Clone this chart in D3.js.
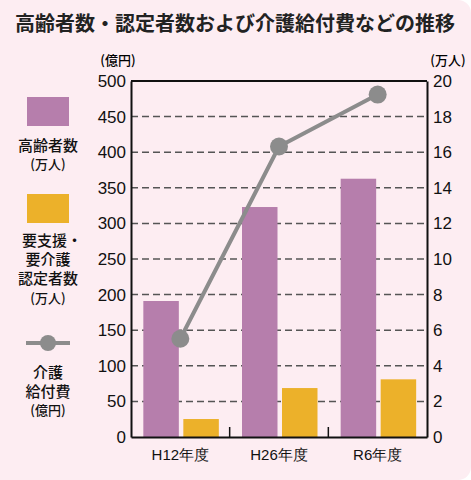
<!DOCTYPE html>
<html>
<head>
    <meta charset="utf-8">
    <title>高齢者数・認定者数および介護給付費などの推移</title>
    <script src="https://d3js.org/d3.v7.min.js"></script>
    <style>
        body { margin: 0; background: #ffffff; }
        svg { display: block; font-family: "Noto Sans CJK JP", "Noto Sans", sans-serif; }
        .tick text { font-size: 17px; fill: #111; font-weight: 500; }
        .legend-text { font-size: 15px; fill: #111; text-anchor: middle; font-weight: 500; }
        .legend-unit { font-size: 13px; fill: #111; text-anchor: middle; font-weight: 500; }
    </style>
</head>
<body>
    <svg id="chart"></svg>
    <script>
        // data
        var categories = ['H12年度', 'H26年度', 'R6年度'];
        var elderly = [7.64, 12.92, 14.51];      // 高齢者数 (万人)
        var certified = [1.01, 2.75, 3.24];      // 要支援・要介護認定者数 (万人)
        var benefits = [138, 408, 481];          // 介護給付費 (億円)
        var leftTicks = [0, 50, 100, 150, 200, 250, 300, 350, 400, 450, 500];
        var rightTicks = [0, 2, 4, 6, 8, 10, 12, 14, 16, 18, 20];

        var W = 471, H = 480;
        var margin = { top: 81, right: 44, bottom: 43, left: 131 };
        var width = W - margin.left - margin.right,
            height = H - margin.top - margin.bottom;

        var purple = '#b67eac', yellow = '#ecb12a', gray = '#8c8c8c';

        var svg = d3.select('#chart')
            .attr('width', W)
            .attr('height', H);

        // background card, rounded on the right side
        svg.append('rect')
            .attr('x', -20).attr('y', 0)
            .attr('width', W + 20).attr('height', H)
            .attr('rx', 13)
            .attr('fill', '#fdedf2');

        svg.append('text')
            .attr('x', 235).attr('y', 31)
            .attr('text-anchor', 'middle')
            .style('font-size', '20px')
            .style('font-weight', 'bold')
            .style('fill', '#222')
            .text('高齢者数・認定者数および介護給付費などの推移');

        svg.append('text').attr('x', 118).attr('y', 65).attr('text-anchor', 'middle')
            .style('font-size', '13px').style('font-weight', 500).text('(億円)');
        svg.append('text').attr('x', 448).attr('y', 65).attr('text-anchor', 'middle')
            .style('font-size', '13px').style('font-weight', 500).text('(万人)');

        var g = svg.append('g').attr('transform', 'translate(' + margin.left + ',' + margin.top + ')');

        var x = d3.scaleBand().domain(categories).range([0, width]);
        var yLeft = d3.scaleLinear().domain([0, 500]).range([height, 0]);
        var yRight = d3.scaleLinear().domain([0, 20]).range([height, 0]);

        // dashed grid
        g.selectAll('.grid')
            .data(leftTicks.filter(d => d > 0 && d < 500))
            .enter().append('line')
            .attr('x1', 0).attr('x2', width)
            .attr('y1', d => yLeft(d)).attr('y2', d => yLeft(d))
            .attr('stroke', '#555')
            .attr('stroke-width', 1.5)
            .attr('stroke-dasharray', '7,4');

        // bars
        var barW = 35.5;
        g.selectAll('.bar-elderly')
            .data(elderly)
            .enter().append('rect')
            .attr('x', (d, i) => x(categories[i]) + x.bandwidth() / 2 - 1.5 - barW)
            .attr('y', d => yRight(d))
            .attr('width', barW)
            .attr('height', d => height - yRight(d))
            .attr('fill', purple);

        g.selectAll('.bar-certified')
            .data(certified)
            .enter().append('rect')
            .attr('x', (d, i) => x(categories[i]) + x.bandwidth() / 2 + 3)
            .attr('y', d => yRight(d))
            .attr('width', barW)
            .attr('height', d => height - yRight(d))
            .attr('fill', yellow);

        // axes
        var leftAxis = d3.axisLeft(yLeft).tickValues(leftTicks).tickSize(0).tickPadding(5);
        var rightAxis = d3.axisRight(yRight).tickValues(rightTicks).tickSize(0).tickPadding(6);
        var bottomAxis = d3.axisBottom(x).tickSize(0).tickPadding(12);

        var gl = g.append('g').call(leftAxis);
        var gr = g.append('g').attr('transform', 'translate(' + width + ',0)').call(rightAxis);
        var gb = g.append('g').attr('transform', 'translate(0,' + height + ')').call(bottomAxis);
        gb.selectAll('text').style('font-size', '15px');
        [gl, gr, gb].forEach(a => a.select('.domain').attr('stroke', '#111').attr('stroke-width', 2));

        // top frame line
        g.append('line')
            .attr('x1', 0).attr('x2', width).attr('y1', 0).attr('y2', 0)
            .attr('stroke', '#111').attr('stroke-width', 2);

        // category separators
        g.selectAll('.sep')
            .data(categories.slice(1))
            .enter().append('line')
            .attr('x1', d => x(d)).attr('x2', d => x(d))
            .attr('y1', height).attr('y2', height - 10)
            .attr('stroke', '#111').attr('stroke-width', 1.5);

        // benefits line
        var line = d3.line()
            .x((d, i) => x(categories[i]) + x.bandwidth() / 2)
            .y(d => yLeft(d));

        g.append('path')
            .datum(benefits)
            .attr('d', line)
            .attr('fill', 'none')
            .attr('stroke', gray)
            .attr('stroke-width', 4);

        g.selectAll('.dot')
            .data(benefits)
            .enter().append('circle')
            .attr('cx', (d, i) => x(categories[i]) + x.bandwidth() / 2)
            .attr('cy', d => yLeft(d))
            .attr('r', 9)
            .attr('fill', gray);

        // legend
        var lg = svg.append('g');
        lg.append('rect').attr('x', 27).attr('y', 97).attr('width', 42).attr('height', 29).attr('fill', purple);
        lg.append('text').attr('class', 'legend-text').attr('x', 48).attr('y', 151).text('高齢者数');
        lg.append('text').attr('class', 'legend-unit').attr('x', 48).attr('y', 169).text('(万人)');

        lg.append('rect').attr('x', 27).attr('y', 194).attr('width', 42).attr('height', 29).attr('fill', yellow);
        var lines2 = lg.append('text').attr('class', 'legend-text').attr('x', 50).attr('y', 246);
        ['要支援・', '要介護', '認定者数'].forEach((t, i) => {
            lines2.append('tspan').attr('x', i === 0 ? 52 : 48).attr('dy', i === 0 ? 0 : 19).text(t);
        });
        lg.append('text').attr('class', 'legend-unit').attr('x', 48).attr('y', 303).text('(万人)');

        lg.append('line').attr('x1', 26).attr('x2', 70).attr('y1', 343).attr('y2', 343)
            .attr('stroke', gray).attr('stroke-width', 4);
        lg.append('circle').attr('cx', 48).attr('cy', 343).attr('r', 8).attr('fill', gray);
        var lines3 = lg.append('text').attr('class', 'legend-text').attr('x', 48).attr('y', 378);
        ['介護', '給付費'].forEach((t, i) => {
            lines3.append('tspan').attr('x', 48).attr('dy', i === 0 ? 0 : 19).text(t);
        });
        lg.append('text').attr('class', 'legend-unit').attr('x', 48).attr('y', 415).text('(億円)');
    </script>
</body>
</html>
